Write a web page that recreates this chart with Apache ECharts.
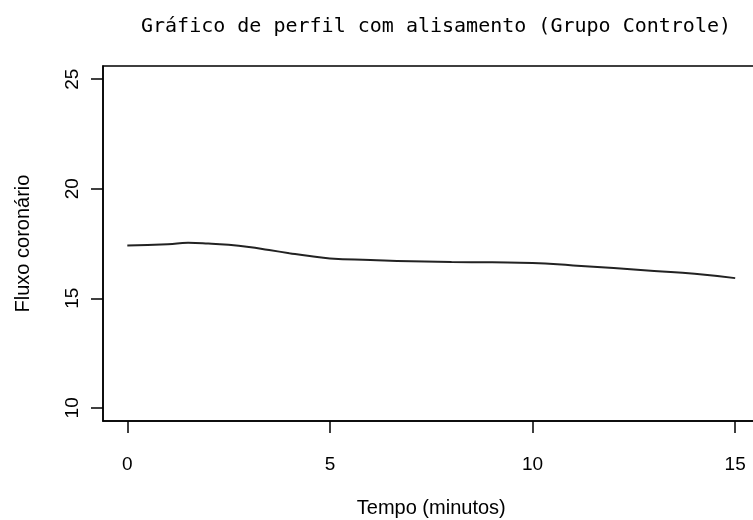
<!DOCTYPE html>
<html>
<head>
<meta charset="utf-8">
<script src="https://cdn.jsdelivr.net/npm/echarts@6/dist/echarts.min.js"></script>
<style>
  html, body { margin: 0; padding: 0; background: #fff; }
  #chart { width: 753px; height: 520px; }
</style>
</head>
<body>
<div id="chart"></div>
<script>
var tempo = [0, 1, 1.5, 2, 2.5, 3, 3.5, 4, 4.5, 5, 6, 7, 8, 9, 10, 11, 12, 13, 14, 15];
var fluxo = [17.41, 17.47, 17.53, 17.5, 17.44, 17.34, 17.2, 17.06, 16.93, 16.82, 16.75, 16.69, 16.66, 16.64, 16.61, 16.5, 16.38, 16.25, 16.12, 15.92];
var xTicks = [0, 5, 10, 15];
var yTicks = [10, 15, 20, 25];
var titulo = 'Gráfico de perfil com alisamento (Grupo Controle)';
var nomeX = 'Tempo (minutos)';
var nomeY = 'Fluxo coronário';

var fonte = '"Liberation Sans", Arial, sans-serif';
var pontos = [];
for (var i = 0; i < tempo.length; i++) pontos.push([tempo[i], fluxo[i]]);

// R-style 4% padding around the data range
function pad(t) { var r = t[t.length - 1] - t[0]; return [t[0] - 0.04 * r, t[t.length - 1] + 0.04 * r]; }
var xr = pad(xTicks), yr = pad(yTicks);

var chart = echarts.init(document.getElementById('chart'));
chart.setOption({
  backgroundColor: '#fff',
  animation: false,
  title: {
    text: titulo,
    left: 431,
    top: 12,
    textAlign: 'center',
    textStyle: { fontFamily: '"DejaVu Sans Mono", monospace', fontSize: 20, fontWeight: 'normal', color: '#000' }
  },
  grid: {
    left: 103, top: 66, width: 656.5, height: 355,
    outerBoundsMode: 'none', containLabel: false,
    show: true, borderColor: '#000', borderWidth: 1.5, backgroundColor: 'transparent'
  },
  xAxis: {
    type: 'value', min: xr[0], max: xr[1],
    axisLine: { show: true, onZero: false, lineStyle: { color: '#000', width: 1.5 } },
    axisTick: { length: 12, customValues: xTicks, lineStyle: { color: '#000', width: 1.5 } },
    splitLine: { show: false },
    axisLabel: { margin: 34, customValues: xTicks, color: '#000', fontFamily: fonte, fontSize: 19 },
    name: nomeX, nameLocation: 'middle', nameGap: 77,
    nameTextStyle: { color: '#000', fontFamily: fonte, fontSize: 20 }
  },
  yAxis: {
    type: 'value', min: yr[0], max: yr[1],
    axisLine: { show: true, onZero: false, lineStyle: { color: '#000', width: 1.5 } },
    axisTick: { length: 12, customValues: yTicks, lineStyle: { color: '#000', width: 1.5 } },
    splitLine: { show: false },
    axisLabel: { margin: 21, rotate: 90, customValues: yTicks, color: '#000', fontFamily: fonte, fontSize: 19 },
    name: nomeY, nameLocation: 'middle', nameGap: 70, nameRotate: 90,
    nameTextStyle: { color: '#000', fontFamily: fonte, fontSize: 20 }
  },
  series: [{
    type: 'line',
    data: pontos,
    smooth: true,
    showSymbol: false,
    lineStyle: { color: '#222', width: 2 }
  }]
});
</script>
</body>
</html>
